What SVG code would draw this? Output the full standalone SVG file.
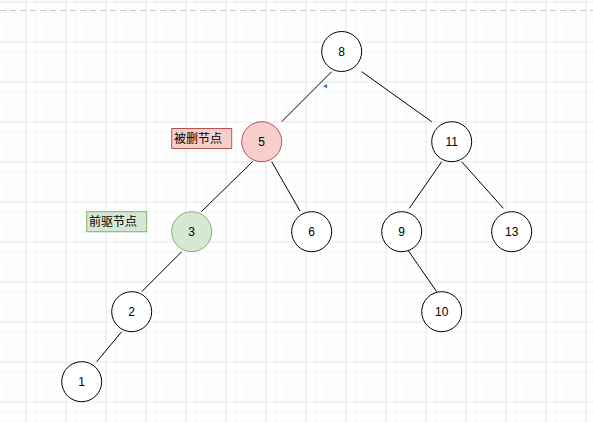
<svg xmlns="http://www.w3.org/2000/svg" width="593" height="422" viewBox="0 0 593 422">
  <defs>
    <pattern id="grid" patternUnits="userSpaceOnUse" x="25.5" y="1.5" width="40" height="40">
      <path d="M10.5 0V40M20.5 0V40M30.5 0V40M0 10.5H40M0 20.5H40M0 30.5H40" stroke="#f7f7f7" stroke-width="1" fill="none"/>
      <path d="M0.5 0V40M0 0.5H40" stroke="#e6e6e6" stroke-width="1" fill="none"/>
    </pattern>
    <style>
      .node circle { fill: #ffffff; stroke: #000000; stroke-width: 1; }
      .node text, .label text { font-family: "Liberation Sans", Arial, sans-serif; font-size: 12px; fill: #000000; }
      .node text { text-anchor: middle; dominant-baseline: central; }
      .deleted circle, .deleted rect { fill: #f8cecc; stroke: #b85450; }
      .pred circle, .pred rect { fill: #d5e8d4; stroke: #82b366; }
      .label text { font-family: "Liberation Sans", "Noto Sans CJK SC", sans-serif; dominant-baseline: central; }
      #edges line { stroke: #000000; stroke-width: 1; }
    </style>
  </defs>
  <rect x="0" y="0" width="593" height="422" fill="#ffffff"/>
  <rect x="0" y="0" width="593" height="422" fill="url(#grid)"/>
  <line x1="0" y1="10.5" x2="593" y2="10.5" stroke="#c8c8c8" stroke-width="1" stroke-dasharray="6,4"/>

  <g id="edges">
    <line x1="331.7" y1="71.7" x2="281.7" y2="121.7"/>
    <line x1="361.7" y1="71.7" x2="431.7" y2="121.7"/>
    <line x1="252.5" y1="161.7" x2="201.5" y2="211.5"/>
    <line x1="271.7" y1="161.7" x2="300" y2="211"/>
    <line x1="181.7" y1="251.7" x2="141.7" y2="291.7"/>
    <line x1="121.7" y1="331.7" x2="96.7" y2="361.7"/>
    <line x1="441.7" y1="161.7" x2="409.3" y2="208.3"/>
    <line x1="461.7" y1="161.7" x2="503.3" y2="208.3"/>
    <line x1="408.5" y1="251" x2="436.7" y2="291.7"/>
  </g>

  <g id="node-8" class="node"><circle cx="341.7" cy="51.5" r="20"/><text x="341.7" y="51.5">8</text></g>
  <g id="node-5" class="node deleted"><circle cx="261.7" cy="141.7" r="20"/><text x="261.7" y="141.7">5</text></g>
  <g id="node-11" class="node"><circle cx="451.7" cy="141.7" r="20"/><text x="451.7" y="141.7">11</text></g>
  <g id="node-3" class="node pred"><circle cx="191.7" cy="231.7" r="20"/><text x="191.7" y="231.7">3</text></g>
  <g id="node-6" class="node"><circle cx="311.7" cy="231.7" r="20"/><text x="311.7" y="231.7">6</text></g>
  <g id="node-9" class="node"><circle cx="401.7" cy="231.7" r="20"/><text x="401.7" y="231.7">9</text></g>
  <g id="node-13" class="node"><circle cx="511.7" cy="231.7" r="20"/><text x="511.7" y="231.7">13</text></g>
  <g id="node-2" class="node"><circle cx="131.7" cy="311.7" r="20"/><text x="131.7" y="311.7">2</text></g>
  <g id="node-10" class="node"><circle cx="441.7" cy="311.7" r="20"/><text x="441.7" y="311.7">10</text></g>
  <g id="node-1" class="node"><circle cx="81.7" cy="381.7" r="20"/><text x="81.7" y="381.7">1</text></g>

  <g id="label-deleted" class="label deleted"><rect x="171.7" y="128.5" width="60" height="20"/><text x="174" y="138.5">被删节点</text></g>
  <g id="label-pred" class="label pred"><rect x="86.7" y="211.7" width="60" height="20"/><text x="89" y="221.7">前驱节点</text></g>

  <path d="M327 84 L323 86.3 L327.3 88.2 Z" fill="#3a7bb8"/>
</svg>
